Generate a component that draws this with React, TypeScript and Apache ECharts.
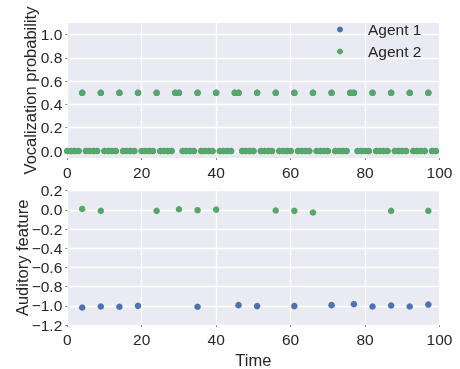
import React, { useEffect, useRef } from "react";
import * as echarts from "echarts";

// Top panel: vocalization probability (times with 0.5, times with 0.0)
const vocalTimes = [4, 9, 14, 19, 24, 29, 30, 35, 40, 45, 46, 51, 56, 61, 66, 71, 76, 77, 82, 87, 92, 97];
const silentTimes = [
  0, 1, 2, 3, 5, 6, 7, 8, 10, 11, 12, 13, 15, 16, 17, 18, 20, 21, 22, 23, 25, 26, 27, 28,
  31, 32, 33, 34, 36, 37, 38, 39, 41, 42, 43, 44, 47, 48, 49, 50, 52, 53, 54, 55, 57, 58, 59, 60,
  62, 63, 64, 65, 67, 68, 69, 70, 72, 73, 74, 75, 78, 79, 80, 81, 83, 84, 85, 86, 88, 89, 90, 91,
  93, 94, 95, 96, 98, 99,
];
const vocalProb = 0.5;
const silentProb = 0.0;

// Bottom panel: auditory feature
const agent1Times = [4, 9, 14, 19, 35, 46, 51, 61, 71, 77, 82, 87, 92, 97];
const agent1Feature = [-1.017, -1.007, -1.01, -1.0, -1.01, -0.993, -1.003, -1.003, -0.993, -0.983, -1.007, -0.997, -1.007, -0.987];
const agent2Times = [4, 9, 24, 30, 35, 40, 56, 61, 66, 87, 97];
const agent2Feature = [0.01, -0.01, -0.01, 0.007, -0.003, 0.003, -0.007, -0.01, -0.027, -0.01, -0.01];

const topYTicks = [0, 0.2, 0.4, 0.6, 0.8, 1.0];

const BLUE = "#4C72B0";
const GREEN = "#55A868";
const TEXT = "#262626";
const FONT = "'Liberation Sans', Arial, sans-serif";

export default function App() {
  const ref = useRef<HTMLDivElement>(null);
  useEffect(() => {
    if (!ref.current) return;
    const chart = echarts.init(ref.current, undefined, { renderer: "svg" });

    const topPts = (t: number[], v: number) => t.map((x) => [x, v]);
    const zipPts = (t: number[], v: number[]) => t.map((x, i) => [x, v[i]]);
    const agent1Top = [...topPts(silentTimes, silentProb), ...topPts(vocalTimes, vocalProb)];
    const agent2Top = [...topPts(silentTimes, silentProb), ...topPts(vocalTimes, vocalProb)];

    const axisLabel = { color: TEXT, fontSize: 15.5, fontFamily: FONT };
    const splitLine = { show: true, lineStyle: { color: "#ffffff", width: 1.3 } };
    const tick = { show: true, length: 2, lineStyle: { color: "#888" } };
    const nameStyle = { color: TEXT, fontSize: 16.5, fontFamily: FONT };

    const xBase = (gridIndex: number, name?: string) => ({
      type: "value" as const,
      gridIndex,
      min: 0,
      max: 100,
      interval: 20,
      axisLine: { show: false, onZero: false },
      axisTick: tick,
      axisLabel: { ...axisLabel, margin: 6 },
      splitLine,
      name,
      nameLocation: "middle" as const,
      nameGap: 26,
      nameMoveOverlap: false,
      nameTextStyle: nameStyle,
    });

    chart.setOption({
      animation: false,
      textStyle: { fontFamily: FONT },
      grid: [
        { left: 67.3, right: 20.5, top: 23, height: 135, show: true, backgroundColor: "#EAEAF2", borderWidth: 0 },
        { left: 67.3, right: 20.5, top: 190.7, height: 139.3, show: true, backgroundColor: "#EAEAF2", borderWidth: 0 },
      ],
      xAxis: [xBase(0), xBase(1, "Time")],
      yAxis: [
        {
          type: "value",
          gridIndex: 0,
          min: -0.06,
          max: 1.1,
          axisLine: { show: false, onZero: false },
          axisTick: { ...tick, customValues: topYTicks },
          axisLabel: { ...axisLabel, margin: 5, customValues: topYTicks, formatter: (v: number) => v.toFixed(1) },
          splitLine,
          name: "Vocalization probability",
          nameLocation: "middle",
          nameRotate: 90,
          nameGap: 29,
          nameMoveOverlap: false,
          nameTextStyle: nameStyle,
        },
        {
          type: "value",
          gridIndex: 1,
          min: -1.2,
          max: 0.2,
          interval: 0.2,
          axisLine: { show: false, onZero: false },
          axisTick: tick,
          axisLabel: {
            ...axisLabel,
            margin: 5,
            formatter: (v: number) => (v < 0 ? "\u2212" : "") + Math.abs(v).toFixed(1),
          },
          splitLine,
          name: "Auditory feature",
          nameLocation: "middle",
          nameRotate: 90,
          nameGap: 37,
          nameMoveOverlap: false,
          nameTextStyle: nameStyle,
        },
      ],
      legend: {
        orient: "vertical",
        left: 332,
        top: 16,
        icon: "circle",
        itemWidth: 6,
        itemHeight: 6,
        itemGap: 5,
        data: ["Agent 1", "Agent 2"],
        textStyle: { color: TEXT, fontSize: 15.5, fontFamily: FONT, padding: [0, 0, 0, 20], lineHeight: 17 },
      },
      series: [
        { name: "Agent 1", type: "scatter", xAxisIndex: 0, yAxisIndex: 0, symbolSize: 6.5, itemStyle: { color: BLUE, opacity: 1 }, data: agent1Top },
        { name: "Agent 2", type: "scatter", xAxisIndex: 0, yAxisIndex: 0, symbolSize: 6.5, itemStyle: { color: GREEN, opacity: 1 }, data: agent2Top },
        { name: "Agent 1", type: "scatter", xAxisIndex: 1, yAxisIndex: 1, symbolSize: 6.5, itemStyle: { color: BLUE, opacity: 1 }, data: zipPts(agent1Times, agent1Feature) },
        { name: "Agent 2", type: "scatter", xAxisIndex: 1, yAxisIndex: 1, symbolSize: 6.5, itemStyle: { color: GREEN, opacity: 1 }, data: zipPts(agent2Times, agent2Feature) },
      ],
    });
    return () => chart.dispose();
  }, []);
  return <div ref={ref} style={{ width: 460, height: 369, position: "fixed", left: 0, top: 0 }} />;
}
